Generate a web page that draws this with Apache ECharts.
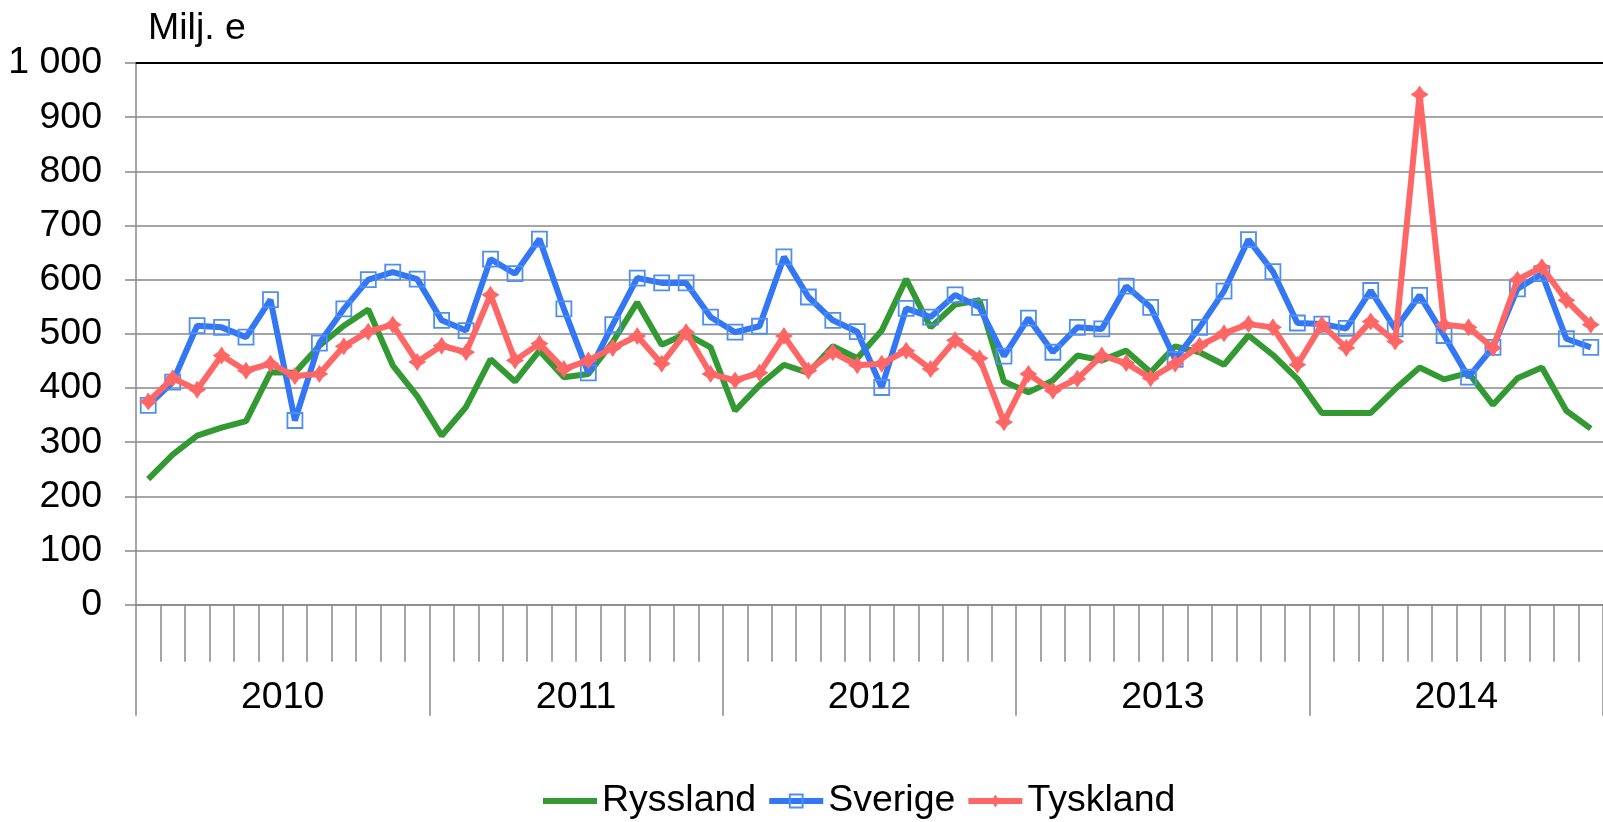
<!DOCTYPE html>
<html>
<head>
<meta charset="utf-8">
<title>Milj. e</title>
<script src="https://cdn.jsdelivr.net/npm/echarts@6/dist/echarts.min.js"></script>
<style>
  html, body { margin: 0; padding: 0; background: #ffffff; }
  #chart { width: 1603px; height: 822px; }
</style>
</head>
<body>
<div id="chart"></div>
<script>
// Monthly values, million euro, January 2010 – December 2014
const years = ['2010', '2011', '2012', '2013', '2014'];
const monthCodes = ['01', '02', '03', '04', '05', '06', '07', '08', '09', '10', '11', '12'];
const months = years.flatMap(y => monthCodes.map(m => y + '-' + m));

const ryssland = [
  232, 277, 312, 327, 339, 429, 428, 478, 515, 545, 442, 385,
  312, 365, 453, 412, 469, 420, 426, 485, 558, 480, 500, 475,
  358, 405, 443, 428, 477, 455, 506, 601, 512, 554, 562, 412,
  392, 414, 460, 451, 469, 429, 477, 466, 443, 497, 461, 417,
  354, 354, 354, 398, 438, 416, 428, 369, 418, 438, 358, 325
];
const sverige = [
  368, 411, 515, 512, 494, 563, 340, 483, 546, 600, 614, 601,
  525, 506, 638, 611, 675, 546, 428, 517, 603, 594, 594, 531,
  503, 514, 642, 568, 525, 504, 401, 547, 531, 572, 549, 459,
  529, 466, 512, 509, 588, 549, 453, 512, 579, 674, 615, 520,
  518, 510, 580, 509, 571, 497, 420, 475, 583, 611, 491, 475
];
const tyskland = [
  375, 418, 397, 460, 432, 445, 422, 426, 477, 504, 517, 448,
  478, 466, 572, 451, 482, 435, 451, 474, 496, 445, 503, 426,
  414, 428, 496, 432, 466, 442, 445, 469, 435, 488, 455, 337,
  426, 395, 417, 460, 446, 418, 445, 478, 501, 518, 512, 443,
  517, 474, 523, 486, 942, 517, 512, 474, 600, 623, 562, 517
];

const FONT = '"Liberation Sans", Arial, "DejaVu Sans", sans-serif';
const GRID_GREY = '#888888';
const FS = 37.5;
const LINE_W = 6;

// four-pointed marker with slightly pinched sides
const starDiamond = 'path://M0,-10 L4,-4 L10,0 L4,4 L0,10 L-4,4 L-10,0 L-4,-4 Z';

function spaced(v) {
  return String(v).replace(/\B(?=(\d{3})+(?!\d))/g, ' ');
}

const chart = echarts.init(document.getElementById('chart'), null, { renderer: 'canvas' });

chart.setOption({
  backgroundColor: '#ffffff',
  animation: false,
  textStyle: { fontFamily: FONT },
  title: {
    text: 'Milj. e',
    left: 148,
    top: 10,
    padding: 0,
    textStyle: { fontFamily: FONT, fontSize: FS, fontWeight: 'normal', color: '#000000' }
  },
  legend: {
    left: 540,
    top: 782,
    itemWidth: 54,
    itemHeight: 16,
    itemGap: 10,
    padding: 0,
    lineStyle: { width: 6 },
    textStyle: { fontFamily: FONT, fontSize: FS, color: '#000000' },
    data: [
      { name: 'Ryssland', itemStyle: { opacity: 0 } },
      'Sverige',
      'Tyskland'
    ]
  },
  grid: { left: 136, top: 63, width: 1477, height: 541.7, containLabel: false },
  xAxis: [
    {
      // month axis: one tick per month boundary
      type: 'category',
      data: months,
      boundaryGap: true,
      position: 'bottom',
      axisLine: { show: true, lineStyle: { color: GRID_GREY, width: 1.5 } },
      axisTick: { show: true, interval: 0, length: 57, lineStyle: { color: GRID_GREY, width: 1.5 } },
      axisLabel: { show: false },
      splitLine: { show: false }
    },
    {
      // year axis: long ticks between years, year labels centred
      type: 'category',
      data: years,
      boundaryGap: true,
      position: 'bottom',
      axisLine: { show: false },
      axisTick: { show: true, interval: 0, length: 111, lineStyle: { color: GRID_GREY, width: 1.5 } },
      axisLabel: { show: true, interval: 0, margin: 74, fontFamily: FONT, fontSize: FS, color: '#000000' },
      splitLine: { show: false }
    },
    {
      // dark frame line along the top of the plot
      type: 'category',
      data: months,
      position: 'top',
      axisLine: { show: true, lineStyle: { color: '#000000', width: 2 } },
      axisTick: { show: false },
      axisLabel: { show: false },
      splitLine: { show: false }
    }
  ],
  yAxis: {
    type: 'value',
    min: 0,
    max: 1000,
    interval: 100,
    axisLine: { show: true, lineStyle: { color: GRID_GREY, width: 1.5 } },
    axisTick: { show: true, inside: false, length: 11, lineStyle: { color: GRID_GREY, width: 1.5 } },
    axisLabel: {
      margin: 34,
      fontFamily: FONT,
      fontSize: FS,
      color: '#000000',
      formatter: v => spaced(v)
    },
    splitLine: { show: true, lineStyle: { color: GRID_GREY, width: 1.5 } }
  },
  series: [
    {
      name: 'Ryssland',
      type: 'line',
      xAxisIndex: 0,
      data: ryssland,
      symbol: 'none',
      lineStyle: { color: '#339933', width: LINE_W },
      itemStyle: { color: '#339933' },
      z: 2
    },
    {
      name: 'Sverige',
      type: 'line',
      xAxisIndex: 0,
      data: sverige,
      symbol: 'rect',
      symbolSize: 15,
      showAllSymbol: true,
      lineStyle: { color: '#3377f5', width: LINE_W },
      itemStyle: { color: 'rgba(255,255,255,0)', borderColor: '#4d8ef7', borderWidth: 1.8 },
      z: 3
    },
    {
      name: 'Tyskland',
      type: 'line',
      xAxisIndex: 0,
      data: tyskland,
      symbol: starDiamond,
      symbolSize: 18,
      showAllSymbol: true,
      lineStyle: { color: '#ff6666', width: LINE_W },
      itemStyle: { color: '#ff6666', borderWidth: 0 },
      z: 4
    }
  ]
});
</script>
</body>
</html>
